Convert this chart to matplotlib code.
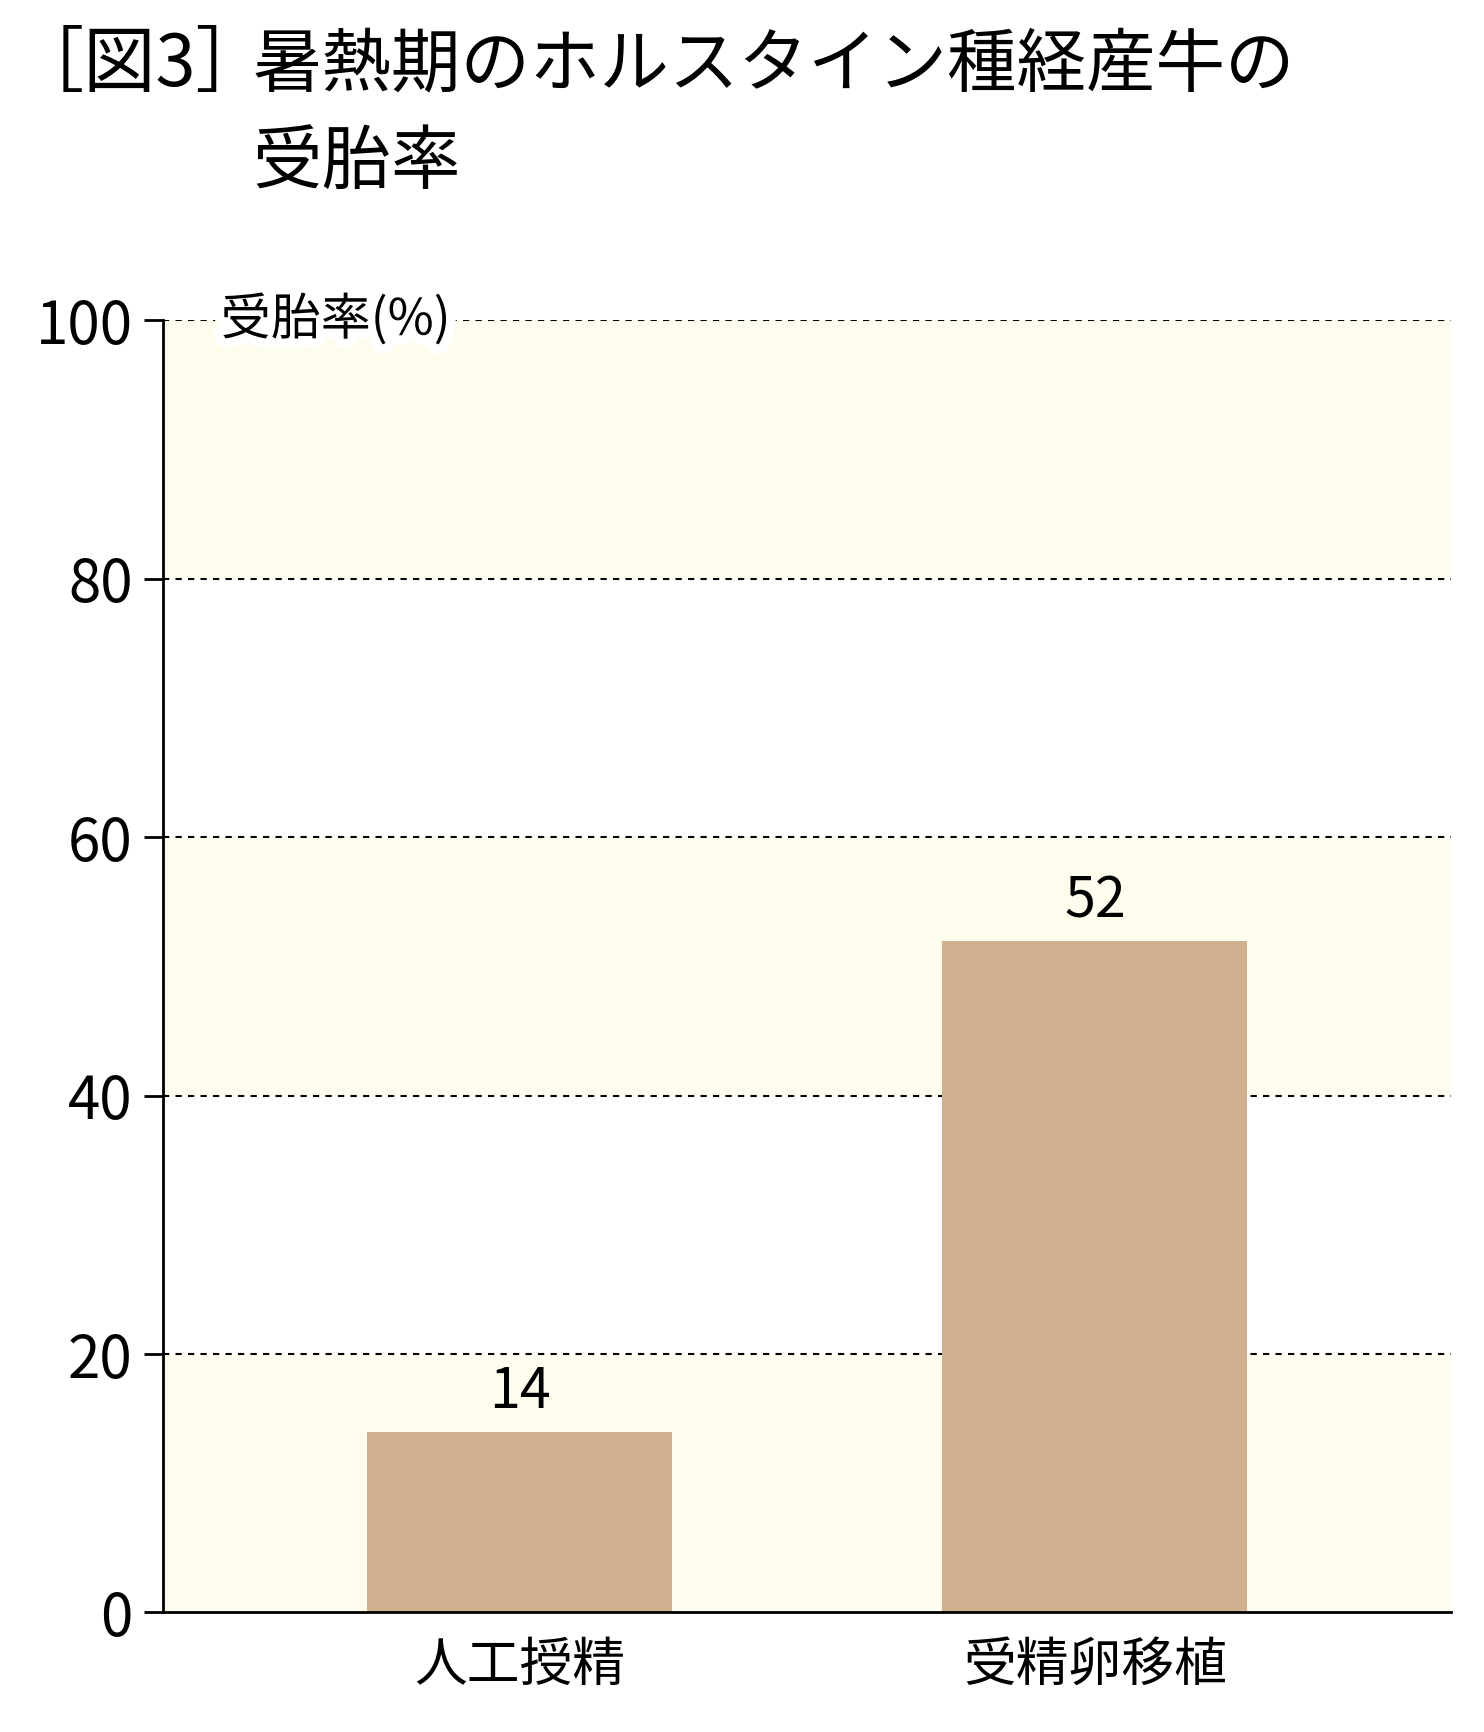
import matplotlib.pyplot as plt
import matplotlib.patheffects as pe

plt.rcParams['font.family'] = ['Noto Sans CJK JP', 'DejaVu Sans']

categories = ["人工授精", "受精卵移植"]
values = [14, 52]
yticks = [0, 20, 40, 60, 80, 100]

fig = plt.figure(figsize=(14.84, 17.32), dpi=100)
ax = fig.add_axes([0.110, 0.069, 0.868, 0.746])

# alternating cream bands
for lo in (0, 40, 80):
    ax.axhspan(lo, lo + 20, color="#fefcec", zorder=0, lw=0)
for y in yticks[1:]:
    ax.axhline(y, color="black", ls=(0, (3, 3)), lw=1.5, zorder=1)

x = range(len(categories))
ax.bar(x, values, width=0.53, color="#cfb08f", zorder=2)
for xi, v in zip(x, values):
    ax.text(xi, v + 0.8, str(v), ha="center", va="bottom", fontsize=40, zorder=3)

ax.set_xlim(-0.62, 1.62)
ax.set_ylim(0, 100)
ax.set_xticks(list(x))
ax.set_xticklabels(categories, fontsize=38)
ax.set_yticks(yticks)
ax.set_yticklabels([str(t) for t in yticks], fontsize=42)
ax.tick_params(axis="y", length=14, width=2, pad=8)
ax.tick_params(axis="x", length=0, pad=18)
for s in ("top", "right"):
    ax.spines[s].set_visible(False)
for s in ("left", "bottom"):
    ax.spines[s].set_linewidth(2)

ax.text(-0.52, 100, "受胎率(%)", fontsize=36, va="center", ha="left", zorder=4,
        path_effects=[pe.withStroke(linewidth=14, foreground="white")])

fig.text(0.008, 0.962, "［図3］", fontsize=52, va="center", ha="left")
fig.text(0.170, 0.962, "暑熱期のホルスタイン種経産牛の", fontsize=50, va="center", ha="left")
fig.text(0.170, 0.906, "受胎率", fontsize=50, va="center", ha="left")

fig.savefig("out.png", dpi=100)
